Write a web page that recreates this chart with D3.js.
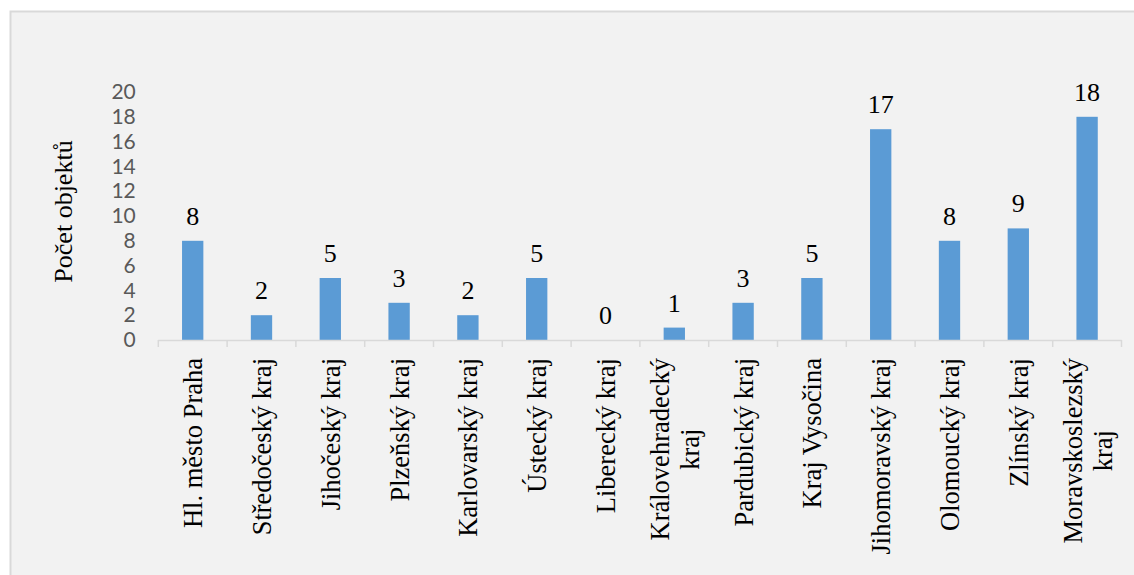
<!DOCTYPE html>
<html>
<head>
<meta charset="utf-8">
<script src="https://cdn.jsdelivr.net/npm/d3@7"></script>
<style>
  html, body { margin: 0; padding: 0; background: #ffffff; }
  svg { display: block; }
</style>
</head>
<body>
<svg id="chart" width="1134" height="575"></svg>
<script>
// Regions of the Czech Republic and the number of objects in each
const categories = [
  "Hl. město Praha", "Středočeský kraj", "Jihočeský kraj", "Plzeňský kraj",
  "Karlovarský kraj", "Ústecký kraj", "Liberecký kraj", "Královehradecký kraj",
  "Pardubický kraj", "Kraj Vysočina", "Jihomoravský kraj", "Olomoucký kraj",
  "Zlínský kraj", "Moravskoslezský kraj"
];
const values = [8, 2, 5, 3, 2, 5, 0, 1, 3, 5, 17, 8, 9, 18];
const yTicks = [0, 2, 4, 6, 8, 10, 12, 14, 16, 18, 20];
const yTitle = "Počet objektů";
// Labels that are broken onto two lines under the axis
const wrappedLabels = {
  "Královehradecký kraj": ["Královehradecký", "kraj"],
  "Moravskoslezský kraj": ["Moravskoslezský", "kraj"]
};

const svg = d3.select("#chart");
const serif = "'Liberation Serif', 'Times New Roman', serif";
const catSize = 26.5;

// chart area frame
svg.append("rect")
  .attr("x", 10.5).attr("y", 11.5)
  .attr("width", 1140).attr("height", 580)
  .attr("fill", "#f2f2f2")
  .attr("stroke", "#d9d9d9")
  .attr("stroke-width", 2);

const plot = { left: 158.3, right: 1121.5, top: 92, bottom: 340 };

const x = d3.scaleBand()
  .domain(categories)
  .range([plot.left, plot.right])
  .padding(0);

const y = d3.scaleLinear()
  .domain([0, 20])
  .range([plot.bottom, plot.top]);

const barWidth = x.bandwidth() * 0.31;

// value axis (labels only)
const yAxis = svg.append("g")
  .attr("transform", `translate(${plot.left},0)`)
  .call(d3.axisLeft(y).tickValues(yTicks).tickSize(0).tickPadding(22.5));
yAxis.select(".domain").remove();
yAxis.selectAll("text")
  .attr("fill", "#595959")
  .style("font-family", "Lato, 'Open Sans', sans-serif")
  .style("font-size", "21px");

// bars
svg.append("g").selectAll("rect")
  .data(values)
  .join("rect")
  .attr("x", (d, i) => x(categories[i]) + x.bandwidth() / 2 - barWidth / 2)
  .attr("y", d => y(d))
  .attr("width", barWidth)
  .attr("height", d => y(0) - y(d))
  .attr("fill", "#5b9bd5");

// category axis line with tick marks at the category boundaries
const xAxis = svg.append("g");
xAxis.append("line")
  .attr("x1", plot.left).attr("x2", plot.right)
  .attr("y1", y(0) + 0.5).attr("y2", y(0) + 0.5)
  .attr("stroke", "#d9d9d9").attr("stroke-width", 1.5);
const boundaries = categories.map(c => x(c)).concat([x.range()[1]]);
xAxis.selectAll("line.tick")
  .data(boundaries)
  .join("line")
  .attr("class", "tick")
  .attr("x1", d => d).attr("x2", d => d)
  .attr("y1", y(0)).attr("y2", y(0) + 7)
  .attr("stroke", "#d9d9d9").attr("stroke-width", 1.5);

// rotated category labels
const lineGap = 30;
const labelTop = 358;
categories.forEach(c => {
  const lines = wrappedLabels[c] || [c];
  const cx = x(c) + x.bandwidth() / 2;
  const n = lines.length;
  const t = svg.append("text")
    .attr("transform", `translate(${cx},${labelTop}) rotate(-90)`)
    .attr("text-anchor", n > 1 ? "middle" : "end")
    .attr("font-family", serif)
    .attr("font-size", catSize)
    .attr("fill", "#000");
  if (n === 1) {
    t.append("tspan").attr("x", 0).attr("y", 0).attr("dy", "0.36em").text(lines[0]);
  } else {
    // centre the wrapped lines on each other, block aligned to the axis
    const widths = lines.map(l => {
      const tmp = svg.append("text").attr("font-family", serif).attr("font-size", catSize).text(l);
      const w = tmp.node().getComputedTextLength();
      tmp.remove();
      return w;
    });
    const maxW = d3.max(widths);
    lines.forEach((l, k) => {
      t.append("tspan")
        .attr("x", -maxW / 2)
        .attr("y", (k - (n - 1) / 2) * lineGap)
        .attr("dy", "0.36em")
        .text(l);
    });
  }
});

// data labels above the bars
svg.append("g").selectAll("text")
  .data(values)
  .join("text")
  .attr("x", (d, i) => x(categories[i]) + x.bandwidth() / 2)
  .attr("y", d => y(d) - 16)
  .attr("text-anchor", "middle")
  .attr("font-family", serif)
  .attr("font-size", 26)
  .attr("fill", "#000")
  .text(d => d);

// value axis title
svg.append("text")
  .attr("transform", `translate(72,211.5) rotate(-90)`)
  .attr("text-anchor", "middle")
  .attr("font-family", serif)
  .attr("font-size", 26)
  .attr("fill", "#000")
  .text(yTitle);
</script>
</body>
</html>
